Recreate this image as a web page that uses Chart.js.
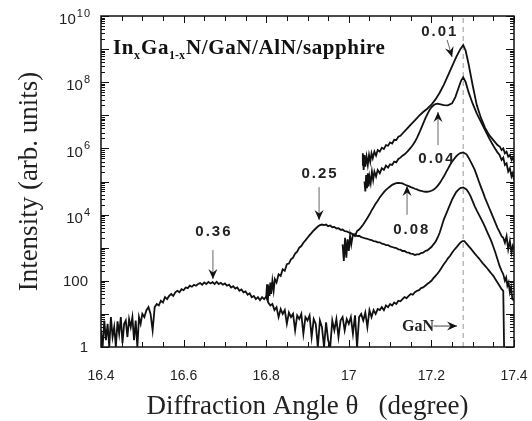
<!DOCTYPE html>
<html>
<head>
<meta charset="utf-8">
<script src="https://cdn.jsdelivr.net/npm/chart.js@4.4.1/dist/chart.umd.min.js"></script>
<style>
  html, body { margin: 0; padding: 0; background: #fff; }
  #wrap { width: 532px; height: 421px; }
</style>
</head>
<body>
<div id="wrap"><canvas id="xrd"></canvas></div>
<script>
// theta-scans of InGaN layers, intensity in arb. units
var ang36 = [16.400,16.404,16.408,16.412,16.416,16.420,16.424,16.428,16.432,16.436,16.440,16.444,16.448,16.452,16.456,16.460,16.464,16.468,16.472,16.476,16.480,16.484,16.488,16.492,16.496,
  16.500,16.505,16.510,16.515,16.520,16.525,16.530,16.535,16.540,16.545,16.550,16.555,16.560,16.565,16.570,16.575,16.580,16.585,16.590,16.595,
  16.600,16.605,16.610,16.615,16.620,16.625,16.630,16.635,16.640,16.645,16.650,16.655,16.660,16.665,16.670,16.675,16.680,16.685,16.690,16.695,
  16.700,16.705,16.710,16.715,16.720,16.725,16.730,16.735,16.740,16.745,16.750,16.755,16.760,16.765,16.770,16.775,16.780,16.785,16.790,16.795,
  16.800,16.805,16.810,16.815,16.820,16.825,16.830,16.835,16.840,16.845,16.850,16.855,16.860,16.865,16.870,16.875,16.880,16.885,16.890,16.895,
  16.900,16.905,16.910,16.915,16.920,16.925,16.930,16.935,16.940,16.945,16.950,16.955,16.960,16.965,16.970,16.975,16.980,16.985,16.990,16.995,
  17.000,17.005,17.010,17.015,17.020,17.025,17.030,17.035,17.040,17.045,17.050,17.055,17.060,17.065,17.070,17.075,17.080,17.085,17.090,17.095,
  17.100,17.105,17.110,17.115,17.120,17.125,17.130,17.135,17.140,17.145,17.150,17.155,17.160,17.165,17.170,17.175,17.180,17.185,17.190,17.195,
  17.200,17.205,17.210,17.215,17.220,17.225,17.230,17.235,17.240,17.245,17.250,17.255,17.260,17.265,17.270,17.275,17.280,17.285,17.290,17.295,
  17.300,17.305,17.310,17.315,17.320,17.325,17.330,17.335,17.340,17.345,17.350,17.355,17.360,17.365,17.370,17.374,17.376];
var int36 = [3.2,1,6.3,1.6,5,1,8,2,4,1,6,2.5,8,1.3,5,6.3,2,7,4,8,1.6,6.3,1,8,5,
  10,8,13,16,10,3.2,16,20,18,25,22,32,28,35,40,35,45,50,45,56,
  52,63,60,71,66,76,71,80,85,76,89,80,93,83,91,80,93,80,87,76,
  83,71,76,63,69,58,63,50,55,45,48,38,42,32,35,28,32,26,32,28,
  33,22,18,20,13,16,8,14,10,13,5,11,8,10,3.2,9,7,10,2.5,8,
  6.3,9,2,7,5,1,6.3,4,1,5.6,1.6,1,6.3,3.2,7,2,6.3,8,3.2,7,
  5,8,2.5,9,1,8,10,6.3,11,4,13,8,13,10,14,13,16,13,18,16,
  20,18,22,20,25,24,28,32,30,35,40,38,45,50,52,60,63,71,80,89,
  100,120,141,166,200,251,316,380,479,562,708,851,1000,1200,1410,1580,1580,1320,1120,955,
  794,661,562,479,398,331,282,240,200,166,141,112,89,71,56,50,1];

var ang25 = [16.800,16.802,16.804,16.806,16.808,16.810,16.812,16.815,16.818,16.821,16.825,16.830,16.835,16.840,16.845,16.850,16.855,16.860,16.865,16.870,16.875,16.880,16.885,16.890,16.895,
  16.900,16.905,16.910,16.915,16.920,16.925,16.930,16.935,16.940,16.945,16.950,16.955,16.960,16.965,16.970,16.975,16.980,16.985,16.990,16.995,
  17.000,17.005,17.010,17.015,17.020,17.025,17.030,17.035,17.040,17.045,17.050,17.055,17.060,17.065,17.070,17.075,17.080,17.085,17.090,17.095,
  17.100,17.105,17.110,17.115,17.120,17.125,17.130,17.135,17.140,17.145,17.150,17.155,17.160,17.165,17.170,17.175,17.180,17.185,17.190,17.195,
  17.200,17.205,17.210,17.215,17.220,17.225,17.230,17.235,17.240,17.245,17.250,17.255,17.260,17.265,17.270,17.277,17.285,17.290,17.295,
  17.300,17.305,17.310,17.315,17.320,17.325,17.330,17.335,17.340,17.345,17.350,17.355,17.360,17.365,17.370,17.374,17.378,17.381,17.384,17.387,17.390,17.393,17.396,17.400];
var int25 = [32,79,25,71,35,89,40,100,50,112,89,158,141,224,200,316,331,447,501,661,759,1000,1120,1410,1660,
  2000,2400,2820,3310,3800,4370,4790,5010,4790,5010,4470,4680,4170,4270,3800,3890,3470,3550,3160,3090,
  2880,2750,2510,2570,2240,2290,2090,2000,1910,1860,1740,1700,1580,1550,1450,1450,1320,1290,1200,1200,
  1100,1050,1000,977,891,871,794,794,724,708,661,646,603,631,631,692,708,794,832,933,
  1050,1260,1510,2000,2820,4470,7080,10000,14100,20000,28200,37200,47900,56200,63100,66100,57500,46800,35500,
  25100,17800,13200,10000,7590,5750,4170,3020,2190,1580,1070,708,447,282,200,158,100,126,71,89,45,63,28,25];

var ang08 = [16.985,16.988,16.991,16.994,16.997,17.000,17.003,17.006,
  17.010,17.015,17.020,17.025,17.030,17.035,17.040,17.045,17.050,17.055,17.060,17.065,17.070,17.075,17.080,17.085,17.090,17.095,
  17.100,17.105,17.110,17.115,17.120,17.125,17.130,17.135,17.140,17.145,17.150,17.155,17.160,17.165,17.170,17.175,17.180,17.185,17.190,17.195,
  17.200,17.205,17.210,17.215,17.220,17.225,17.230,17.235,17.240,17.245,17.250,17.255,17.260,17.265,17.270,17.277,17.285,17.290,17.295,
  17.300,17.305,17.310,17.315,17.320,17.325,17.330,17.335,17.340,17.345,17.350,17.355,17.360,17.365,17.370,17.374,17.378,17.382,17.386,17.390,17.394,17.397,17.400];
var int08 = [1260,398,2000,501,1780,794,2240,1260,
  2510,2240,3160,3550,4170,5010,6310,7940,10000,13200,16600,21400,26300,33100,39800,47900,56200,63100,
  70800,79400,85100,89100,91200,89100,87100,81300,75900,72400,67600,64600,60300,57500,53700,52500,50100,49000,49000,50100,
  52500,56200,63100,74100,89100,112000,141000,186000,240000,316000,398000,479000,575000,661000,724000,759000,661000,525000,398000,
  302000,224000,151000,100000,67600,46800,31600,22400,15800,11200,7940,5620,3980,3020,2240,2000,1410,2240,891,1580,708,1120,891];

var ang04 = [17.038,17.040,17.042,17.044,17.046,17.048,17.050,17.053,17.056,17.059,17.062,17.066,17.070,17.075,17.080,17.085,17.090,17.095,
  17.100,17.105,17.110,17.115,17.120,17.125,17.130,17.135,17.140,17.145,17.150,17.155,17.160,17.165,17.170,17.175,17.180,17.185,17.190,17.195,
  17.200,17.205,17.210,17.215,17.220,17.230,17.240,17.250,17.258,17.265,17.272,17.277,17.283,17.290,
  17.300,17.310,17.320,17.330,17.340,17.350,17.360,17.365,17.370,17.374,17.378,17.382,17.386,17.390,17.394,17.397,17.400];
var int04 = [1.0e5,5.0e4,1.58e5,6.3e4,1.78e5,7.1e4,1.41e5,8.9e4,2.0e5,1.12e5,2.0e5,1.41e5,2.24e5,1.78e5,2.51e5,2.24e5,3.02e5,2.63e5,
  3.31e5,3.16e5,3.98e5,3.8e5,4.79e5,5.25e5,6.03e5,6.61e5,7.59e5,8.91e5,1.05e6,1.26e6,1.58e6,2.09e6,2.82e6,3.98e6,5.62e6,7.94e6,1.07e7,1.41e7,
  1.74e7,2.0e7,2.19e7,2.24e7,2.19e7,2.04e7,2.0e7,2.29e7,3.55e7,6.31e7,1.12e8,1.41e8,1.0e8,5.01e7,
  2.24e7,1.12e7,6.31e6,3.55e6,2.0e6,1.2e6,7.59e5,6.31e5,4.47e5,5.25e5,3.16e5,3.55e5,2.0e5,2.51e5,1.41e5,1.78e5,1.12e5];

var ang01 = [17.032,17.034,17.036,17.038,17.040,17.043,17.046,17.049,17.052,17.055,17.058,17.062,17.066,17.070,17.075,17.080,17.085,17.090,17.095,
  17.100,17.105,17.110,17.115,17.120,17.125,17.130,17.140,17.150,17.160,17.170,17.180,17.190,
  17.200,17.210,17.220,17.230,17.240,17.250,17.260,17.270,17.277,17.283,17.290,
  17.300,17.310,17.320,17.330,17.340,17.350,17.360,17.366,17.370,17.374,17.378,17.382,17.386,17.390,17.394,17.397,17.400];
var int01 = [3.16e5,7.08e5,2.24e5,6.31e5,2.82e5,5.62e5,3.16e5,6.31e5,3.98e5,7.08e5,5.01e5,7.94e5,6.03e5,8.91e5,7.94e5,1.05e6,9.55e5,1.26e6,1.2e6,
  1.51e6,1.41e6,1.82e6,1.78e6,2.24e6,2.4e6,2.82e6,3.8e6,5.25e6,7.08e6,9.55e6,1.26e7,1.58e7,
  2.09e7,3.02e7,4.79e7,8.32e7,1.58e8,3.02e8,5.75e8,1.0e9,1.32e9,8.91e8,3.55e8,
  7.94e7,2.0e7,8.32e6,4.17e6,2.51e6,1.78e6,1.26e6,1.12e6,8.91e5,1.0e6,7.08e5,7.94e5,5.62e5,6.31e5,4.47e5,5.25e5,3.98e5];

// GaN (0002) position, marked with a dashed line
var ganPeak = 17.277;

var xTicks = [16.4, 16.6, 16.8, 17.0, 17.2, 17.4];
var yTicks = [1, 100, 1e4, 1e6, 1e8, 1e10];

// composition labels with their arrows, in data coordinates
var notes = [
  { text: '0.36', lx: 16.671, ly: 2950,  ax: 16.671, from: 850,    to: 113 },
  { text: '0.25', lx: 16.928, ly: 1.7e5, ax: 16.928, from: 6.8e4,  to: 6.9e3 },
  { text: '0.08', lx: 17.150, ly: 3400,  ax: 17.141, from: 9800,   to: 7.3e4 },
  { text: '0.04', lx: 17.211, ly: 4.8e5, ax: 17.216, from: 1.26e6, to: 1.26e7 },
  { text: '0.01', lx: 17.218, ly: 3.3e9, ax: 17.238, from: 1.9e9,  to: 5.8e8, ax2: 17.250 }
];

function pts(a, b) {
  return a.map(function (x, i) { return { x: x, y: b[i] }; });
}

function curve(a, b) {
  return { data: pts(a, b), borderColor: '#111', borderWidth: 1.8, pointRadius: 0, tension: 0, fill: false, order: 1 };
}

var SERIF = '"Liberation Serif", "Times New Roman", serif';
var SANS = '"Liberation Sans", Arial, sans-serif';

function arrowHead(ctx, x1, y1, x2, y2) {
  var ang = Math.atan2(y2 - y1, x2 - x1);
  var len = 10, half = 4.5, notch = 3.5;
  ctx.save();
  ctx.translate(x2, y2);
  ctx.rotate(ang);
  ctx.beginPath();
  ctx.moveTo(0, 0);
  ctx.lineTo(-len, -half);
  ctx.lineTo(-len + notch, 0);
  ctx.lineTo(-len, half);
  ctx.closePath();
  ctx.fillStyle = '#111';
  ctx.fill();
  ctx.restore();
}

var decor = {
  id: 'decor',
  afterDraw: function (chart) {
    var ctx = chart.ctx, a = chart.chartArea;
    var xs = chart.scales.x, ys = chart.scales.y;
    ctx.save();

    // frame
    ctx.strokeStyle = '#111';
    ctx.lineWidth = 1.5;
    ctx.strokeRect(a.left, a.top, a.right - a.left, a.bottom - a.top);

    // inward ticks: x every 0.05, y log decades with 2..9
    ctx.lineWidth = 1;
    ctx.beginPath();
    for (var k = 0; k <= 20; k++) {
      var v = 16.4 + k * 0.05;
      var px = Math.round(xs.getPixelForValue(v)) + 0.5;
      var tl = (k % 4 === 0) ? 7 : 5;
      ctx.moveTo(px, a.bottom); ctx.lineTo(px, a.bottom - tl);
      ctx.moveTo(px, a.top); ctx.lineTo(px, a.top + tl);
    }
    for (var d = 0; d <= 10; d++) {
      for (var m = 1; m <= 9; m++) {
        if (d === 10 && m > 1) break;
        var py = Math.round(ys.getPixelForValue(m * Math.pow(10, d))) + 0.5;
        var l = (m === 1) ? 8 : 4;
        ctx.moveTo(a.left, py); ctx.lineTo(a.left + l, py);
        ctx.moveTo(a.right, py); ctx.lineTo(a.right - l, py);
      }
    }
    ctx.stroke();

    // y tick labels with superscript exponents
    ctx.fillStyle = '#222';
    ctx.textBaseline = 'middle';
    ctx.textAlign = 'right';
    var rx = a.left - 13;
    yTicks.forEach(function (t) {
      var py = ys.getPixelForValue(t);
      var e = Math.round(Math.log10(t));
      if (e <= 2) {
        ctx.font = '15px ' + SANS;
        ctx.fillText(String(t), rx, py + 1);
      } else {
        ctx.font = '11px ' + SANS;
        ctx.letterSpacing = '1px';
        var sw = ctx.measureText(String(e)).width;
        ctx.fillText(String(e), rx + 3, py - 2);
        ctx.letterSpacing = '0px';
        ctx.font = '15px ' + SANS;
        ctx.fillText('10', rx + 2 - sw, py + 4);
      }
    });

    // sample title
    ctx.textAlign = 'left';
    ctx.textBaseline = 'alphabetic';
    ctx.fillStyle = '#111';
    var tx = a.left + 12, ty = a.top + 38;
    var parts = [['In', 0], ['x', 1], ['Ga', 0], ['1-x', 1], ['N/GaN/AlN/sapphire', 0]];
    parts.forEach(function (p) {
      ctx.font = p[1] ? 'bold 12px ' + SERIF : 'bold 21px ' + SERIF;
      ctx.letterSpacing = p[1] ? '0px' : '0.6px';
      ctx.fillText(p[0], tx, ty + (p[1] ? 5 : 0));
      tx += ctx.measureText(p[0]).width + (p[1] ? 1 : 0);
    });
    ctx.letterSpacing = '0px';

    // composition labels and arrows
    notes.forEach(function (n) {
      ctx.font = 'bold 15px ' + SANS;
      ctx.letterSpacing = '2px';
      ctx.textAlign = 'center';
      ctx.textBaseline = 'middle';
      ctx.fillStyle = '#222';
      ctx.fillText(n.text, xs.getPixelForValue(n.lx) + 1, ys.getPixelForValue(n.ly));
      ctx.letterSpacing = '0px';
      var x1 = xs.getPixelForValue(n.ax), y1 = ys.getPixelForValue(n.from);
      var x2 = xs.getPixelForValue(n.ax2 || n.ax), y2 = ys.getPixelForValue(n.to);
      ctx.strokeStyle = '#666';
      ctx.lineWidth = 1;
      ctx.beginPath();
      ctx.moveTo(x1, y1); ctx.lineTo(x2, y2);
      ctx.stroke();
      arrowHead(ctx, x1, y1, x2, y2);
    });

    // GaN marker
    ctx.font = 'bold 16px ' + SERIF;
    ctx.textAlign = 'left';
    ctx.textBaseline = 'alphabetic';
    ctx.fillStyle = '#222';
    ctx.fillText('GaN', xs.getPixelForValue(17.129), ys.getPixelForValue(3.0));
    var gx1 = xs.getPixelForValue(17.205), gx2 = xs.getPixelForValue(17.262), gy = ys.getPixelForValue(4.3);
    ctx.strokeStyle = '#444';
    ctx.beginPath();
    ctx.moveTo(gx1, gy); ctx.lineTo(gx2, gy);
    ctx.stroke();
    arrowHead(ctx, gx1, gy, gx2, gy);

    ctx.restore();
  }
};

new Chart('xrd', {
  type: 'line',
  data: {
    datasets: [
      curve(ang36, int36),
      curve(ang25, int25),
      curve(ang08, int08),
      curve(ang04, int04),
      curve(ang01, int01),
      {
        data: [{ x: ganPeak, y: 1 }, { x: ganPeak, y: 1e10 }],
        borderColor: '#999', borderWidth: 1, borderDash: [5, 4],
        pointRadius: 0, order: 2
      }
    ]
  },
  options: {
    responsive: true,
    maintainAspectRatio: false,
    animation: false,
    devicePixelRatio: 1,
    layout: { padding: { top: 16, right: 18, left: 0, bottom: 0 } },
    plugins: { legend: { display: false }, tooltip: { enabled: false } },
    scales: {
      x: {
        type: 'linear',
        min: 16.4,
        max: 17.4,
        afterFit: function (s) { s.height = 74; s.paddingLeft = 0; s.paddingRight = 0; },
        afterBuildTicks: function (s) { s.ticks = xTicks.map(function (v) { return { value: v }; }); },
        grid: { display: false, drawTicks: false },
        border: { display: false },
        ticks: {
          padding: 21,
          color: '#222',
          font: { family: SANS, size: 14 },
          maxRotation: 0,
          callback: function (v) { return String(Number(v.toFixed(1))); }
        },
        title: {
          display: true,
          text: 'Diffraction Angle \u03b8   (degree)',
          color: '#222',
          font: { family: SERIF, size: 27, lineHeight: 1 },
          padding: { top: 0, bottom: 1 }
        }
      },
      y: {
        type: 'logarithmic',
        min: 1,
        max: 1e10,
        afterFit: function (s) { s.width = 101; },
        grid: { display: false, drawTicks: false },
        border: { display: false },
        ticks: { display: false },
        title: {
          display: true,
          text: 'Intensity (arb. units)',
          color: '#222',
          font: { family: SERIF, size: 27, lineHeight: 1 },
          padding: { top: 16, bottom: 0 }
        }
      }
    }
  },
  plugins: [decor]
});
</script>
</body>
</html>
